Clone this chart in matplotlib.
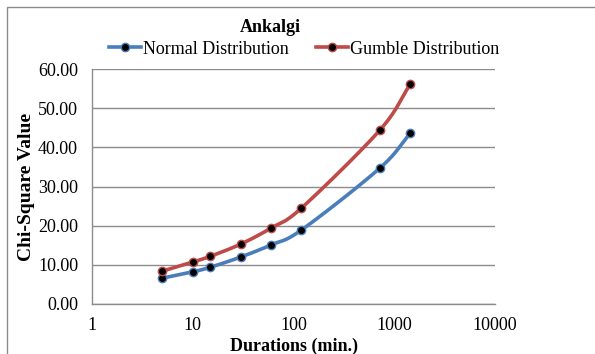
import matplotlib
matplotlib.use("Agg")
import matplotlib.pyplot as plt
import numpy as np
from matplotlib.patches import Rectangle

plt.rcParams["font.family"] = ["Liberation Serif", "DejaVu Serif"]

durations = [5, 10, 15, 30, 60, 120, 720, 1440]
normal_chi = [6.6, 8.2, 9.4, 12.0, 15.1, 18.9, 34.7, 43.6]
gumble_chi = [8.4, 10.7, 12.2, 15.3, 19.4, 24.5, 44.4, 56.1]
series_names = ["Normal Distribution", "Gumble Distribution"]
series_colors = ["#4a7ebb", "#be4b48"]


def smooth(xs, ys, n=30):
    # Catmull-Rom through the points, in log-x space
    lx = np.log10(xs)
    ys = np.asarray(ys, dtype=float)
    px = np.concatenate([[2 * lx[0] - lx[1]], lx, [2 * lx[-1] - lx[-2]]])
    py = np.concatenate([[2 * ys[0] - ys[1]], ys, [2 * ys[-1] - ys[-2]]])
    out_x, out_y = [], []
    for i in range(1, len(px) - 2):
        t = np.linspace(0, 1, n)
        for p, out in ((px, out_x), (py, out_y)):
            p0, p1, p2, p3 = p[i - 1], p[i], p[i + 1], p[i + 2]
            out.extend(0.5 * (2 * p1 + (-p0 + p2) * t
                              + (2 * p0 - 5 * p1 + 4 * p2 - p3) * t ** 2
                              + (-p0 + 3 * p1 - 3 * p2 + p3) * t ** 3))
    return 10 ** np.array(out_x), np.array(out_y)


fig = plt.figure(figsize=(5.95, 3.54), dpi=100)
ax = fig.add_axes([92 / 595, 1 - 304 / 354, 403 / 595, 235 / 354])

for vals, name, col in zip([normal_chi, gumble_chi], series_names, series_colors):
    sx, sy = smooth(durations, vals)
    ax.plot(sx, sy, color=col, linewidth=2.6, solid_capstyle="round")
    ax.plot(durations, vals, linestyle="none", marker="o", markersize=6,
            markerfacecolor="black", markeredgecolor=col, markeredgewidth=1.0)
    ax.plot([], [], color=col, linewidth=2.6, marker="o", markersize=6,
            markerfacecolor="black", markeredgecolor=col, label=name)

ax.set_xscale("log")
ax.set_xlim(1, 10000)
ax.set_ylim(0, 60)
ax.set_yticks(np.arange(0, 61, 10))
ax.yaxis.set_major_formatter(plt.FuncFormatter(lambda v, _: f"{v:.2f}"))
ax.set_xticks([1, 10, 100, 1000, 10000])
ax.set_xticklabels(["1", "10", "100", "1000", "10000"])
ax.xaxis.set_minor_locator(matplotlib.ticker.NullLocator())
ax.tick_params(axis="y", length=0, labelsize=13, pad=10)
ax.tick_params(axis="x", length=0, labelsize=13, pad=9)

ax.grid(True, axis="y", color="#8c8c8c", linewidth=1.0)
ax.set_axisbelow(True)
for side in ["top", "right"]:
    ax.spines[side].set_visible(False)
for side in ["left", "bottom"]:
    ax.spines[side].set_color("#8c8c8c")
    ax.spines[side].set_linewidth(1.0)

ax.set_xlabel("Durations (min.)", fontsize=13, fontweight="bold", labelpad=3)
ax.set_ylabel("Chi-Square Value", fontsize=14, fontweight="bold", labelpad=2)

fig.text(270 / 595, 1 - 28 / 354, "Ankalgi", ha="center", va="center",
         fontsize=13, fontweight="bold")
fig.legend(loc="center", bbox_to_anchor=(304 / 595, 1 - 49 / 354), ncol=2,
           frameon=False, fontsize=13, handlelength=1.8, handletextpad=0.1,
           columnspacing=1.5, borderaxespad=0)

# chart area border, only the top and left edges fall inside the image
fig.patches.append(Rectangle((7 / 595, -0.05), 1.0, 1 - 7 / 354 + 0.05,
                             transform=fig.transFigure, fill=False,
                             edgecolor="#8c8c8c", linewidth=1.0))

fig.savefig("out.png", dpi=100)
